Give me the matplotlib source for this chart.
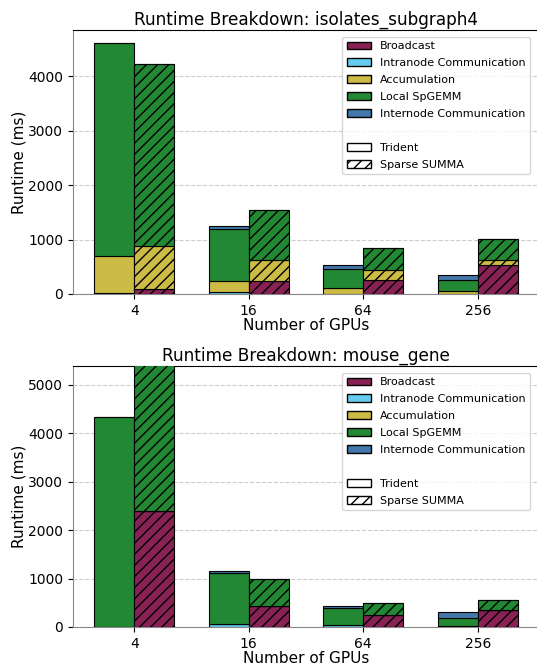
import matplotlib
matplotlib.use("Agg")
import matplotlib.pyplot as plt
import matplotlib.patches as mpatches
import numpy as np

gpus = ["4", "16", "64", "256"]
components = ["Broadcast", "Intranode Communication", "Accumulation",
              "Local SpGEMM", "Internode Communication"]
colors = ["#882255", "#66CCEE", "#CCBB44", "#228833", "#4477AA"]

# isolates_subgraph4 (ms)
iso_trident = {
    "Broadcast": [0, 0, 0, 0],
    "Intranode Communication": [10, 35, 8, 8],
    "Accumulation": [690, 210, 105, 45],
    "Local SpGEMM": [3905, 945, 350, 208],
    "Internode Communication": [5, 62, 66, 97],
}
iso_summa = {
    "Broadcast": [98, 245, 249, 534],
    "Intranode Communication": [0, 0, 0, 0],
    "Accumulation": [779, 381, 184, 92],
    "Local SpGEMM": [3351, 910, 410, 379],
    "Internode Communication": [0, 0, 0, 0],
}

# mouse_gene (ms)
mouse_trident = {
    "Broadcast": [0, 0, 0, 0],
    "Intranode Communication": [10, 60, 45, 15],
    "Accumulation": [0, 0, 0, 0],
    "Local SpGEMM": [4318, 1054, 338, 175],
    "Internode Communication": [0, 41, 41, 117],
}
mouse_summa = {
    "Broadcast": [2392, 443, 240, 350],
    "Intranode Communication": [0, 0, 0, 0],
    "Accumulation": [0, 0, 0, 0],
    "Local SpGEMM": [3600, 547, 246, 205],
    "Internode Communication": [0, 0, 0, 0],
}

panels = [
    ("isolates_subgraph4", iso_trident, iso_summa, 4850),
    ("mouse_gene", mouse_trident, mouse_summa, 5390),
]

W, H = 537, 666
fig = plt.figure(figsize=(W / 100, H / 100), dpi=100)
axes_px = [(73, 30, 539, 294), (73, 366, 539, 627)]

width = 0.35
x = np.arange(len(gpus))

for (name, trident, summa, ytop), (l, t, r, b) in zip(panels, axes_px):
    ax = fig.add_axes([l / W, 1 - b / H, (r - l) / W, (b - t) / H])
    for data, off, hatch in [(trident, -width / 2, None), (summa, width / 2, "///")]:
        bottom = np.zeros(len(gpus))
        for comp, col in zip(components, colors):
            vals = np.array(data[comp], dtype=float)
            ax.bar(x + off, vals, width, bottom=bottom, color=col,
                   edgecolor="black", linewidth=0.8, hatch=hatch, zorder=3)
            bottom += vals
    ax.set_xticks(x)
    ax.set_xticklabels(gpus, fontsize=10)
    ax.tick_params(axis="y", labelsize=10)
    ax.set_xlim(-0.535, 3.535)
    ax.set_ylim(0, ytop)
    ax.set_title(f"Runtime Breakdown: {name}", fontsize=12.2, pad=4)
    ax.set_xlabel("Number of GPUs", fontsize=11, labelpad=0)
    ax.set_ylabel("Runtime (ms)", fontsize=11)
    ax.yaxis.set_label_coords(-0.1, 0.5)
    ax.yaxis.grid(True, linestyle="--", color="#cccccc", linewidth=0.8, zorder=0)
    ax.set_axisbelow(True)
    for s in ["left", "bottom"]:
        ax.spines[s].set_color("#888888")
    handles = [mpatches.Patch(facecolor=c, edgecolor="black", label=n)
               for n, c in zip(components, colors)]
    handles.append(mpatches.Patch(facecolor="none", edgecolor="none", label=" "))
    handles.append(mpatches.Patch(facecolor="white", edgecolor="black", label="Trident"))
    handles.append(mpatches.Patch(facecolor="white", edgecolor="black", hatch="///",
                                  label="Sparse SUMMA"))
    ax.legend(handles=handles, loc="upper right", fontsize=8,
              bbox_to_anchor=(0.993, 0.995), labelspacing=0.62, borderpad=0.4,
              handlelength=2.2, handletextpad=0.8)

fig.savefig("out.png", dpi=100)
